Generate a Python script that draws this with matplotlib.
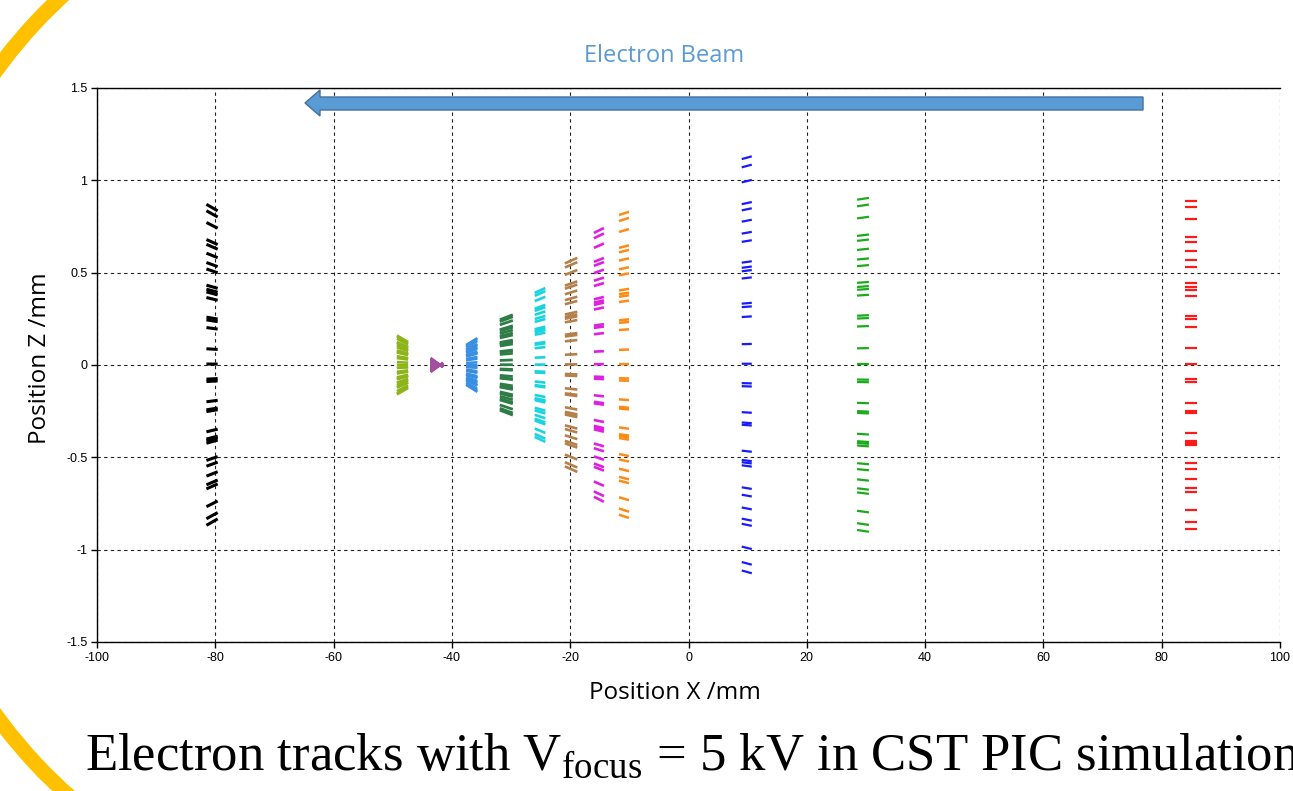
import matplotlib
matplotlib.use('Agg')
import matplotlib.pyplot as plt
from matplotlib.collections import LineCollection
from matplotlib.patches import Arc, Polygon

# ---------------- data ----------------
# normalized transverse positions of the tracked particles (read from the x = 85 mm column)
track_offsets = [1.000, 0.960, 0.887, 0.781, 0.751, 0.696, 0.638, 0.598, 0.497, 0.472,
                 0.455, 0.420, 0.298, 0.281, 0.233, 0.101, 0.006, -0.088, -0.103, -0.229,
                 -0.279, -0.290, -0.416, -0.461, -0.472, -0.487, -0.594, -0.630, -0.692,
                 -0.746, -0.771, -0.882, -0.957, -0.998]

# track snapshots: x extent (mm) and beam half-size (mm) at the left / right end
group_x_left = [-81.5, -49.3, -43.6, -37.6, -31.9, -26.0, -20.9, -16.0, -11.75, 9.0, 28.5, 84.0]
group_x_right = [-79.6, -47.4, -41.5, -35.7, -29.7, -24.2, -18.8, -14.3, -10.06, 10.7, 30.5, 86.0]
group_half_left = [0.870, 0.160, 0.038, 0.108, 0.245, 0.390, 0.550, 0.715, 0.812, 1.115, 0.895, 0.890]
group_half_right = [0.835, 0.125, -0.012, 0.146, 0.272, 0.417, 0.580, 0.742, 0.830, 1.130, 0.905, 0.890]
group_colors = ['#000000', '#8db51a', '#a24f9e', '#3a8fe3', '#2e7d46', '#19d3e0',
                '#b5804a', '#e020e0', '#ff8a14', '#1a1aff', '#1aaa1a', '#ff1a1a']
group_lw = [2.2, 1.8, 1.8, 1.8, 2.0, 1.9, 1.9, 1.9, 1.8, 1.6, 1.6, 1.6]

x_ticks = [-100, -80, -60, -40, -20, 0, 20, 40, 60, 80, 100]
x_tick_labels = ['-100', '-80', '-60', '-40', '-20', '0', '20', '40', '60', '80', '100']
y_ticks = [-1.5, -1, -0.5, 0, 0.5, 1, 1.5]
y_tick_labels = ['-1.5', '-1', '-0.5', '0', '0.5', '1', '1.5']

# ---------------- figure ----------------
plt.rcParams['mathtext.fontset'] = 'custom'
plt.rcParams['mathtext.rm'] = 'Liberation Serif'

W, H = 1293, 791
fig = plt.figure(figsize=(W / 100, H / 100), dpi=100)
fig.patch.set_facecolor('white')

ax = fig.add_axes([97 / W, 1 - 642 / H, (1280 - 97) / W, (642 - 88) / H])
ax.set_xlim(-100, 100)
ax.set_ylim(-1.5, 1.5)
ax.set_xticks(x_ticks)
ax.set_xticklabels(x_tick_labels)
ax.set_yticks(y_ticks)
ax.set_yticklabels(y_tick_labels)
ax.tick_params(direction='out', length=4, width=1, labelsize=9, pad=3)
for lab in ax.get_xticklabels() + ax.get_yticklabels():
    lab.set_family('Liberation Sans')
ax.grid(True, color='#222222', linestyle=(0, (3, 3)), linewidth=0.8)
ax.set_axisbelow(True)
for s in ['left', 'bottom', 'top']:
    ax.spines[s].set_color('black')
    ax.spines[s].set_linewidth(1.0)
ax.spines['right'].set_visible(False)

for xl, xr, hl, hr, c, lw in zip(group_x_left, group_x_right, group_half_left,
                                 group_half_right, group_colors, group_lw):
    segs = [[(xl, o * hl), (xr, o * hr)] for o in track_offsets]
    lc = LineCollection(segs, colors=c, linewidths=lw, capstyle='butt', zorder=3)
    ax.add_collection(lc)

# ---------------- texts ----------------
fig.text(675 / W, 1 - 693 / H, 'Position X /mm', ha='center', va='center',
         fontsize=17.5, family='Open Sans')
fig.text(40 / W, 1 - 358 / H, 'Position Z /mm', ha='center', va='center',
         rotation=90, fontsize=17.5, family='Open Sans')
fig.text(664 / W, 1 - 56 / H, 'Electron Beam', ha='center', va='center',
         fontsize=17, family='Open Sans', color='#5b9bd5')
fig.text(85 / W, 1 - 770 / H, r'Electron tracks with V$_{\rm focus}$ = 5 kV in CST PIC simulation',
         ha='left', va='baseline', fontsize=38, family='Liberation Serif', color='black')

# ---------------- decorations (pixel overlay) ----------------
ov = fig.add_axes([0, 0, 1, 1], zorder=5)
ov.set_xlim(0, W)
ov.set_ylim(H, 0)
ov.axis('off')
ov.patch.set_alpha(0)
ov.add_patch(Arc((380, 393), 975, 1047, theta1=90, theta2=270,
                 color='#ffc000', lw=11))
arrow_pts = [(305, 103), (320, 90), (320, 97), (1143, 97), (1143, 110),
             (320, 110), (320, 116)]
ov.add_patch(Polygon(arrow_pts, closed=True, facecolor='#5b9bd5',
                     edgecolor='#41719c', lw=1))

fig.savefig('out.png', dpi=100)
